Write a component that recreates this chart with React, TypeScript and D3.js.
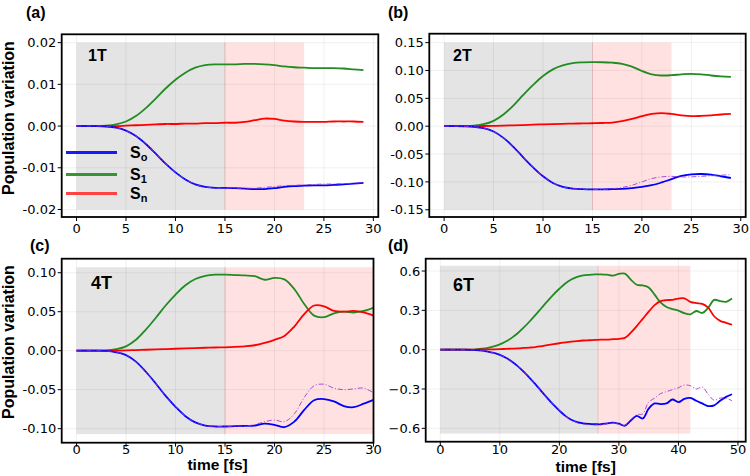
import React from 'react';
import * as d3 from 'd3';

// sample times [fs]
const time30 = d3.range(0, 30);
const time31 = d3.range(0, 31);
const time50 = d3.range(0, 50);

// (a) 1T
const s0_1T = [0, 0, 0, -0.0001, -0.0004, -0.0011, -0.0024, -0.0043, -0.0066, -0.009, -0.0111, -0.0128, -0.014, -0.0146, -0.0148, -0.0148, -0.0149, -0.015, -0.0151, -0.0151, -0.0149, -0.0146, -0.0144, -0.0143, -0.0142, -0.0142, -0.0141, -0.014, -0.0138, -0.0136];
const s0ref_1T = [0, 0, 0, -0.0001, -0.0004, -0.0011, -0.0024, -0.0043, -0.0066, -0.009, -0.0111, -0.0128, -0.014, -0.0146, -0.0148, -0.0148, -0.0149, -0.0149, -0.0149, -0.0147, -0.0145, -0.0143, -0.0142, -0.0141, -0.014, -0.0139, -0.0139, -0.0138, -0.0137, -0.0135];
const s1_1T = [0, 0, 0, 0.0001, 0.0004, 0.0011, 0.0024, 0.0043, 0.0066, 0.009, 0.0111, 0.0128, 0.014, 0.0146, 0.0148, 0.0148, 0.0148, 0.0149, 0.0149, 0.0148, 0.0146, 0.0143, 0.0141, 0.014, 0.0139, 0.0139, 0.0139, 0.0138, 0.0136, 0.0134];
const sn_1T = [0, 0, 0, 0, 0, 0.0001, 0.0002, 0.0003, 0.0004, 0.0005, 0.0005, 0.0006, 0.0006, 0.0007, 0.0007, 0.0008, 0.0008, 0.001, 0.0014, 0.0018, 0.0017, 0.0013, 0.0011, 0.001, 0.001, 0.001, 0.0011, 0.0011, 0.0011, 0.001];

// (b) 2T
const s0_2T = [0, 0, -0.0002, -0.001, -0.0035, -0.0096, -0.021, -0.037, -0.056, -0.074, -0.09, -0.102, -0.109, -0.112, -0.113, -0.1135, -0.1135, -0.113, -0.1125, -0.111, -0.109, -0.106, -0.101, -0.095, -0.089, -0.0865, -0.0858, -0.087, -0.09, -0.093];
const s0ref_2T = [0, 0, -0.0002, -0.001, -0.0035, -0.0096, -0.021, -0.037, -0.056, -0.074, -0.09, -0.102, -0.109, -0.112, -0.113, -0.1135, -0.1135, -0.1125, -0.11, -0.106, -0.1, -0.094, -0.091, -0.09, -0.091, -0.091, -0.09, -0.089, -0.088, -0.087];
const s1_2T = [0, 0, 0.0002, 0.001, 0.0035, 0.0096, 0.021, 0.037, 0.056, 0.074, 0.09, 0.102, 0.109, 0.113, 0.1145, 0.115, 0.1148, 0.114, 0.112, 0.107, 0.099, 0.093, 0.091, 0.0915, 0.093, 0.094, 0.093, 0.091, 0.0895, 0.0885];
const sn_2T = [0, 0, 0, 0.0001, 0.0003, 0.0006, 0.001, 0.0015, 0.002, 0.0027, 0.0033, 0.0038, 0.0042, 0.0046, 0.005, 0.0053, 0.0057, 0.0065, 0.009, 0.013, 0.018, 0.022, 0.0235, 0.022, 0.0195, 0.018, 0.0185, 0.0195, 0.021, 0.022];

// (c) 4T
const s0_4T = [0, 0, 0, -0.0003, -0.002, -0.0056, -0.014, -0.027, -0.042, -0.058, -0.072, -0.084, -0.092, -0.096, -0.0972, -0.0972, -0.0968, -0.0965, -0.096, -0.0935, -0.095, -0.098, -0.091, -0.076, -0.0635, -0.062, -0.065, -0.071, -0.0725, -0.068, -0.063];
const s0ref_4T = [0, 0, 0, -0.0003, -0.002, -0.0056, -0.014, -0.027, -0.042, -0.058, -0.072, -0.084, -0.092, -0.096, -0.0972, -0.0972, -0.0968, -0.0965, -0.095, -0.091, -0.089, -0.091, -0.081, -0.06, -0.045, -0.043, -0.048, -0.05, -0.049, -0.048, -0.054];
const s1_4T = [0, 0, 0, 0.0003, 0.002, 0.0056, 0.014, 0.027, 0.042, 0.058, 0.072, 0.084, 0.092, 0.096, 0.0975, 0.0975, 0.097, 0.0965, 0.0955, 0.091, 0.0935, 0.0915, 0.079, 0.06, 0.045, 0.043, 0.048, 0.05, 0.049, 0.051, 0.055];
const sn_4T = [0, 0, 0, 0, 0.0001, 0.0004, 0.0008, 0.0012, 0.0016, 0.002, 0.0025, 0.003, 0.0034, 0.0038, 0.0041, 0.0043, 0.0048, 0.0056, 0.007, 0.01, 0.014, 0.019, 0.031, 0.047, 0.058, 0.057, 0.051, 0.05, 0.051, 0.049, 0.045];

// (d) 6T
const s0_6T = [0, 0, 0, 0, 0, -0.001, -0.003, -0.007, -0.014, -0.025, -0.04, -0.062, -0.09, -0.125, -0.168, -0.215, -0.265, -0.318, -0.37, -0.42, -0.465, -0.505, -0.535, -0.553, -0.562, -0.566, -0.568, -0.569, -0.562, -0.556, -0.565, -0.58, -0.54, -0.505, -0.525, -0.45, -0.41, -0.415, -0.41, -0.38, -0.4, -0.375, -0.368, -0.39, -0.41, -0.43, -0.425, -0.39, -0.36, -0.34];
const s0ref_6T = [0, 0, 0, 0, 0, -0.001, -0.003, -0.007, -0.014, -0.025, -0.04, -0.062, -0.09, -0.125, -0.168, -0.215, -0.265, -0.318, -0.37, -0.42, -0.465, -0.505, -0.537, -0.557, -0.567, -0.573, -0.575, -0.572, -0.565, -0.558, -0.566, -0.578, -0.535, -0.495, -0.49, -0.4, -0.37, -0.335, -0.32, -0.305, -0.29, -0.27, -0.275, -0.3, -0.285, -0.34, -0.385, -0.37, -0.37, -0.39];
const s1_6T = [0, 0, 0, 0, 0, 0.001, 0.003, 0.007, 0.014, 0.025, 0.04, 0.062, 0.09, 0.125, 0.168, 0.215, 0.265, 0.318, 0.37, 0.42, 0.465, 0.505, 0.535, 0.555, 0.566, 0.571, 0.574, 0.575, 0.572, 0.565, 0.578, 0.58, 0.535, 0.495, 0.49, 0.475, 0.42, 0.36, 0.325, 0.31, 0.298, 0.278, 0.27, 0.295, 0.28, 0.32, 0.38, 0.37, 0.365, 0.39];
const sn_6T = [0, 0, 0, 0, 0, 0, 0.001, 0.002, 0.003, 0.003, 0.004, 0.006, 0.008, 0.01, 0.013, 0.016, 0.02, 0.027, 0.034, 0.042, 0.049, 0.055, 0.061, 0.066, 0.07, 0.072, 0.074, 0.076, 0.077, 0.08, 0.083, 0.09, 0.13, 0.18, 0.235, 0.29, 0.34, 0.37, 0.378, 0.38, 0.39, 0.392, 0.365, 0.355, 0.35, 0.32, 0.255, 0.22, 0.205, 0.19];

// ticks
const xTicks30 = [0, 5, 10, 15, 20, 25, 30];
const xTicks50 = [0, 10, 20, 30, 40, 50];
const yTicks1T = [-0.02, -0.01, 0, 0.01, 0.02];
const yLabels1T = ['-0.02', '-0.01', '0.00', '0.01', '0.02'];
const yTicks2T = [-0.15, -0.1, -0.05, 0, 0.05, 0.1, 0.15];
const yLabels2T = ['-0.15', '-0.10', '-0.05', '0.00', '0.05', '0.10', '0.15'];
const yTicks4T = [-0.1, -0.05, 0, 0.05, 0.1];
const yLabels4T = ['-0.10', '-0.05', '0.00', '0.05', '0.10'];
const yTicks6T = [-0.6, -0.3, 0, 0.3, 0.6];
const yLabels6T = ['\u22120.6', '\u22120.3', '0.0', '0.3', '0.6'];

const legendNames = [['S', 'o'], ['S', '1'], ['S', 'n']];

const BLUE = '#0000ff';
const GREEN = '#228b22';
const RED = '#ff0000';
const PURPLE = '#9932cc';
const BOLD = "'Liberation Sans', Arial, sans-serif";
const TICKFONT = "'DejaVu Sans', sans-serif";

type Frame = { x0: number; x1: number; y0: number; y1: number };

type PanelProps = {
  id: string;
  frame: Frame;
  xDomain: [number, number];
  yDomain: [number, number];
  xTicks: number[];
  yTicks: number[];
  yLabels: string[];
  time: number[];
  s0: number[];
  s0ref: number[];
  s1: number[];
  sn: number[];
  grayTo: number;
  pinkTo: number;
  band: number;
  tag: string;
  tagPos: [number, number];
  tagSize: number;
  letter: string;
  letterPos: [number, number];
  xLabelGap: number;
  xTitleY?: number;
  yTitleY?: number;
  legend?: boolean;
};

function Panel(p: PanelProps) {
  const { frame } = p;
  const x = d3.scaleLinear().domain(p.xDomain).range([frame.x0, frame.x1]);
  const y = d3.scaleLinear().domain(p.yDomain).range([frame.y1, frame.y0]);
  const line = (vals: number[]) =>
    d3
      .line<number>()
      .x((_, i) => x(p.time[i]))
      .y((d) => y(d))
      .curve(d3.curveCatmullRom.alpha(0.5))(vals) || '';

  return (
    <g>
      <defs>
        <clipPath id={`clip-${p.id}`}>
          <rect x={frame.x0} y={frame.y0} width={frame.x1 - frame.x0} height={frame.y1 - frame.y0} />
        </clipPath>
      </defs>
      <g clipPath={`url(#clip-${p.id})`}>
        <rect x={x(0)} y={y(p.band)} width={x(p.grayTo) - x(0)} height={y(-p.band) - y(p.band)} fill="#e4e4e4" />
        <rect x={x(p.grayTo)} y={y(p.band)} width={x(p.pinkTo) - x(p.grayTo)} height={y(-p.band) - y(p.band)} fill="#ffe1e1" />
        <line x1={x(p.grayTo)} x2={x(p.grayTo)} y1={y(p.band)} y2={y(-p.band)} stroke="#e8b8b8" strokeWidth={0.8} />
        {p.xTicks.map((t) => (
          <line key={`gx${t}`} x1={x(t)} x2={x(t)} y1={frame.y0} y2={frame.y1} stroke="#000" strokeOpacity={0.08} strokeWidth={0.8} />
        ))}
        {p.yTicks.map((t) => (
          <line key={`gy${t}`} x1={frame.x0} x2={frame.x1} y1={y(t)} y2={y(t)} stroke="#000" strokeOpacity={0.08} strokeWidth={0.8} />
        ))}
        <path d={line(p.s1)} fill="none" stroke={GREEN} strokeWidth={1.8} />
        <path d={line(p.sn)} fill="none" stroke={RED} strokeWidth={1.8} />
        <path d={line(p.s0)} fill="none" stroke={BLUE} strokeWidth={1.8} />
        <path d={line(p.s0ref)} fill="none" stroke={PURPLE} strokeWidth={1} strokeDasharray="5,2,1,2" strokeOpacity={0.85} />
      </g>
      <rect x={frame.x0} y={frame.y0} width={frame.x1 - frame.x0} height={frame.y1 - frame.y0} fill="none" stroke="#000" strokeWidth={1.8} />
      {p.xTicks.map((t) => (
        <g key={`xt${t}`}>
          <line x1={x(t)} x2={x(t)} y1={frame.y1} y2={frame.y1 + 4} stroke="#000" strokeWidth={1} />
          <text x={x(t)} y={frame.y1 + p.xLabelGap} textAnchor="middle" fontFamily={TICKFONT} fontSize={13}>
            {t}
          </text>
        </g>
      ))}
      {p.yTicks.map((t, i) => (
        <g key={`yt${t}`}>
          <line x1={frame.x0 - 4} x2={frame.x0} y1={y(t)} y2={y(t)} stroke="#000" strokeWidth={1} />
          <text x={frame.x0 - 5.5} y={y(t)} dy="0.36em" textAnchor="end" fontFamily={TICKFONT} fontSize={13}>
            {p.yLabels[i]}
          </text>
        </g>
      ))}
      <text x={p.tagPos[0]} y={p.tagPos[1]} fontFamily={BOLD} fontWeight="bold" fontSize={p.tagSize}>
        {p.tag}
      </text>
      <text x={p.letterPos[0]} y={p.letterPos[1]} fontFamily={BOLD} fontWeight="bold" fontSize={16}>
        {p.letter}
      </text>
      {p.yTitleY !== undefined && (
        <text transform={`translate(14,${p.yTitleY}) rotate(-90)`} textAnchor="middle" fontFamily={BOLD} fontWeight="bold" fontSize={16}>
          Population variation
        </text>
      )}
      {p.xTitleY !== undefined && (
        <text x={(frame.x0 + frame.x1) / 2} y={p.xTitleY} textAnchor="middle" fontFamily={BOLD} fontWeight="bold" fontSize={15.5}>
          time [fs]
        </text>
      )}
      {p.legend && (
        <g>
          {[BLUE, GREEN, '#ff3030'].map((c, i) => {
            const ly = [152.5, 174.5, 193.5][i];
            return (
              <g key={c}>
                <line x1={66} x2={117} y1={ly} y2={ly} stroke={c} strokeWidth={3} strokeOpacity={0.9} />
                <text x={130} y={ly + 5.5} fontFamily={BOLD} fontWeight="bold" fontSize={16}>
                  {legendNames[i][0]}
                  <tspan fontSize={11} dy={3}>
                    {legendNames[i][1]}
                  </tspan>
                </text>
              </g>
            );
          })}
        </g>
      )}
    </g>
  );
}

export default function App() {
  return (
    <svg width={750} height={476} style={{ position: 'absolute', left: 0, top: 0, background: '#fff' }}>
      <Panel
        id="a"
        frame={{ x0: 61.7, x1: 378.3, y0: 34.3, y1: 217 }}
        xDomain={[-1.5, 30.5]}
        yDomain={[-0.0218, 0.022]}
        xTicks={xTicks30}
        yTicks={yTicks1T}
        yLabels={yLabels1T}
        time={time30}
        s0={s0_1T}
        s0ref={s0ref_1T}
        s1={s1_1T}
        sn={sn_1T}
        grayTo={15}
        pinkTo={23}
        band={0.02}
        tag="1T"
        tagPos={[88, 61]}
        tagSize={16}
        letter="(a)"
        letterPos={[26, 18]}
        xLabelGap={16}
        yTitleY={118}
        legend
      />
      <Panel
        id="b"
        frame={{ x0: 429.3, x1: 745.7, y0: 33.7, y1: 217 }}
        xDomain={[-1.5, 30.5]}
        yDomain={[-0.163, 0.166]}
        xTicks={xTicks30}
        yTicks={yTicks2T}
        yLabels={yLabels2T}
        time={time30}
        s0={s0_2T}
        s0ref={s0ref_2T}
        s1={s1_2T}
        sn={sn_2T}
        grayTo={15}
        pinkTo={23}
        band={0.15}
        tag="2T"
        tagPos={[453, 61]}
        tagSize={16}
        letter="(b)"
        letterPos={[388, 18]}
        xLabelGap={16}
      />
      <Panel
        id="c"
        frame={{ x0: 61.7, x1: 373.5, y0: 258.7, y1: 442.7 }}
        xDomain={[-1.5, 30]}
        yDomain={[-0.118, 0.118]}
        xTicks={xTicks30}
        yTicks={yTicks4T}
        yLabels={yLabels4T}
        time={time31}
        s0={s0_4T}
        s0ref={s0ref_4T}
        s1={s1_4T}
        sn={sn_4T}
        grayTo={15}
        pinkTo={30}
        band={0.107}
        tag="4T"
        tagPos={[91, 289]}
        tagSize={18}
        letter="(c)"
        letterPos={[30, 251]}
        xLabelGap={11.5}
        yTitleY={342}
        xTitleY={470}
      />
      <Panel
        id="d"
        frame={{ x0: 425.7, x1: 745.7, y0: 258.7, y1: 441.7 }}
        xDomain={[-2.45, 51.3]}
        yDomain={[-0.702, 0.694]}
        xTicks={xTicks50}
        yTicks={yTicks6T}
        yLabels={yLabels6T}
        time={time50}
        s0={s0_6T}
        s0ref={s0ref_6T}
        s1={s1_6T}
        sn={sn_6T}
        grayTo={26.5}
        pinkTo={42}
        band={0.64}
        tag="6T"
        tagPos={[453, 291]}
        tagSize={18}
        letter="(d)"
        letterPos={[388, 251]}
        xLabelGap={12.5}
        xTitleY={472}
      />
    </svg>
  );
}
